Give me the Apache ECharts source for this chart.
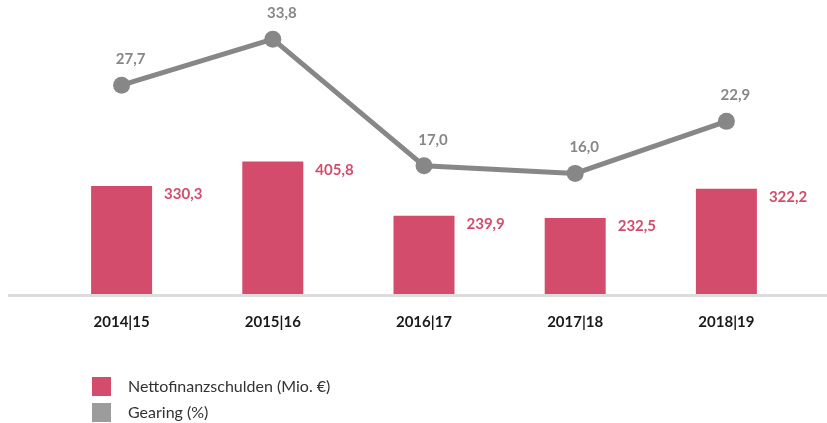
<!DOCTYPE html>
<html>
<head>
<meta charset="utf-8">
<script src="https://cdn.jsdelivr.net/npm/echarts@6/dist/echarts.min.js"></script>
<style>
  html, body { margin: 0; padding: 0; background: #fff; }
  #chart { width: 827px; height: 423px; }
</style>
</head>
<body>
<div id="chart"></div>
<script>
// Daten aus der Grafik
var jahre = ['2014|15', '2015|16', '2016|17', '2017|18', '2018|19'];
var nettofinanzschulden = [330.3, 405.8, 239.9, 232.5, 322.2];
var gearing = [27.7, 33.8, 17.0, 16.0, 22.9];

var rot = '#d44c6c';
var grau = '#878787';

function komma(v) {
    return v.toFixed(1).replace('.', ',');
}

// gemeinsame Einstellungen für die beiden Legendenzeilen
function legende(top, name, farbe) {
    return {
        left: 92, top: top,
        padding: 0,
        itemWidth: 19, itemHeight: 19,
        icon: 'rect',
        textStyle: { fontSize: 16, color: '#333', padding: [0, 0, 0, 12] },
        data: [{ name: name, itemStyle: { color: farbe } }]
    };
}

var myChart = echarts.init(document.getElementById('chart'));

var option = {
    animation: false,
    textStyle: { fontFamily: 'Lato' },
    grid: { left: 46, right: 25, top: 0, bottom: 129 },
    // graue Grundlinie über die ganze Breite
    graphic: [{
        type: 'rect',
        left: 8, top: 294,
        shape: { width: 819, height: 3 },
        style: { fill: '#dcdcdc' },
        z: 1
    }],
    legend: [
        legende(377, 'Nettofinanzschulden (Mio. €)', rot),
        legende(403, 'Gearing (%)', '#9c9c9c')
    ],
    xAxis: {
        type: 'category',
        data: jahre,
        axisLine: { show: false },
        axisTick: { show: false },
        axisLabel: { margin: 21, fontSize: 15, fontWeight: 'bold', color: '#1a1a1a' }
    },
    yAxis: [
        { type: 'value', min: 0, max: 900, show: false, splitLine: { show: false } },
        { type: 'value', min: 0, max: 39, show: false, splitLine: { show: false } }
    ],
    series: [
        {
            name: 'Nettofinanzschulden (Mio. €)',
            type: 'bar',
            data: nettofinanzschulden,
            barWidth: 61,
            itemStyle: { color: rot },
            z: 2,
            label: {
                show: true,
                position: [73, 1],
                color: rot,
                fontSize: 15,
                fontWeight: 'bold',
                formatter: function (p) { return komma(p.value); }
            }
        },
        {
            name: 'Gearing (%)',
            type: 'line',
            yAxisIndex: 1,
            data: gearing,
            symbol: 'circle',
            symbolSize: 17,
            lineStyle: { color: grau, width: 5 },
            itemStyle: { color: grau },
            z: 3,
            label: {
                show: true,
                position: 'top',
                distance: 10,
                offset: [9, 0],
                color: grau,
                fontSize: 15,
                fontWeight: 'bold',
                formatter: function (p) { return komma(p.value); }
            }
        }
    ]
};

myChart.setOption(option);
</script>
</body>
</html>
